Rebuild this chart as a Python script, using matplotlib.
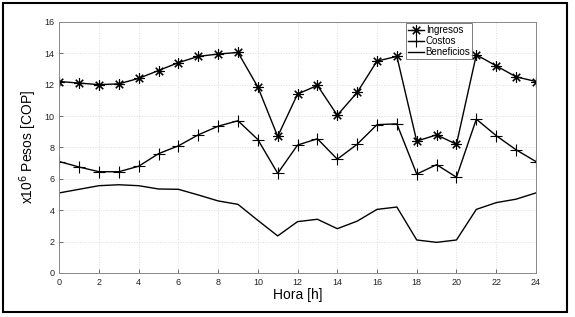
import matplotlib
matplotlib.use("Agg")
import matplotlib.pyplot as plt
from matplotlib.patches import Rectangle

hours = list(range(25))
ingresos = [12.2, 12.1, 12.0, 12.05, 12.4, 12.9, 13.4, 13.8, 13.95, 14.05, 11.85, 8.7,
            11.4, 11.95, 10.05, 11.5, 13.5, 13.8, 8.4, 8.8, 8.2, 13.9, 13.2, 12.5, 12.2]
costos = [7.1, 6.75, 6.45, 6.45, 6.8, 7.6, 8.1, 8.8, 9.35, 9.7, 8.5, 6.35,
          8.15, 8.55, 7.25, 8.2, 9.45, 9.5, 6.3, 6.9, 6.1, 9.8, 8.75, 7.85, 7.1]
beneficios = [5.1, 5.33, 5.56, 5.62, 5.56, 5.35, 5.33, 4.97, 4.59, 4.37, 3.35, 2.36,
              3.27, 3.42, 2.82, 3.3, 4.05, 4.2, 2.1, 1.95, 2.1, 4.05, 4.48, 4.7, 5.1]
xticks = list(range(0, 25, 2))
yticks = list(range(0, 17, 2))

plt.rcParams['font.family'] = ['Liberation Sans', 'DejaVu Sans']

fig = plt.figure(figsize=(5.75, 3.17), dpi=100)
ax = fig.add_axes([0.103, 0.139, 0.829, 0.792])

ax.plot(hours, ingresos, color='black', lw=1.0, marker=(8, 2, 0), ms=7.5, mew=0.8, label='Ingresos')
ax.plot(hours, costos, color='black', lw=1.0, marker='+', ms=9, mew=0.8, label='Costos')
ax.plot(hours, beneficios, color='black', lw=1.0, label='Beneficios')

ax.set_xlim(0, 24)
ax.set_ylim(0, 16)
ax.set_xticks(xticks)
ax.set_yticks(yticks)
ax.tick_params(labelsize=6.5, direction='in', length=3, width=0.6, color='#555555',
               labelcolor='#222222')
ax.grid(True, color='#dddddd', linestyle=':', linewidth=0.7)
for s in ax.spines.values():
    s.set_color('#888888')
    s.set_linewidth(0.7)

ax.set_xlabel('Hora [h]', fontsize=10, labelpad=1)
ax.set_ylabel('x10$^6$ Pesos [COP]', fontsize=10, labelpad=4)

leg = ax.legend(loc='upper left', bbox_to_anchor=(0.728, 0.995), fontsize=7,
                frameon=True, fancybox=False, edgecolor='#444444', borderpad=0.2,
                labelspacing=0.1, handlelength=1.6, handletextpad=0.2, borderaxespad=0)
leg.get_frame().set_linewidth(0.6)

fig.patches.append(Rectangle((3 / 575, 5 / 317), 564 / 575, 309 / 317, transform=fig.transFigure,
                             fill=False, edgecolor='black', linewidth=1.5))

fig.savefig('out.png', dpi=100)
